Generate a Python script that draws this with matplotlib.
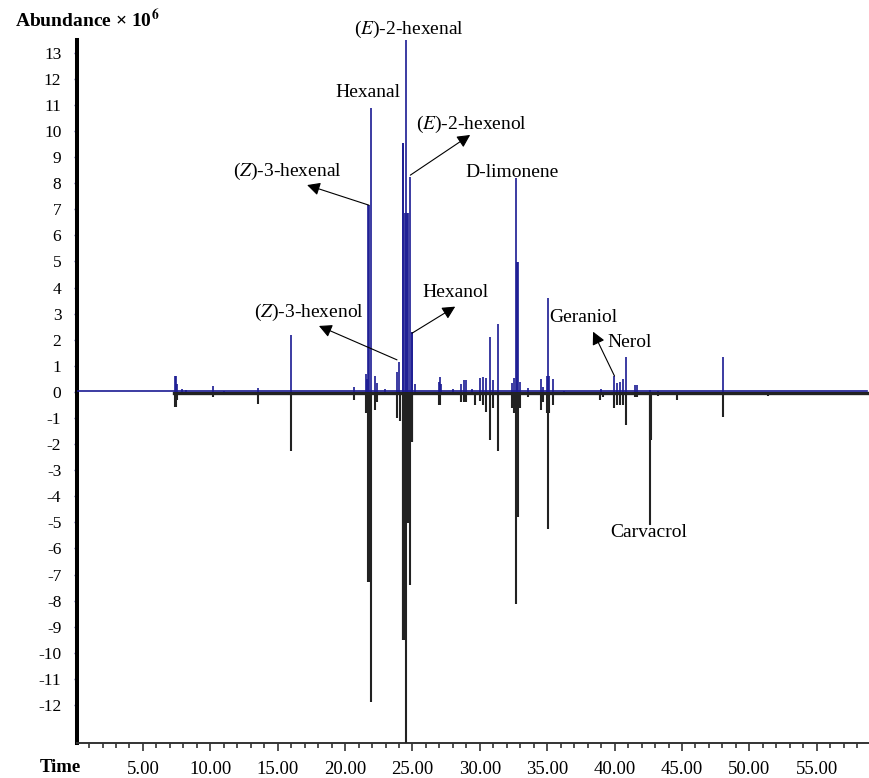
import matplotlib
matplotlib.use('Agg')
import matplotlib.pyplot as plt
from matplotlib.ticker import MultipleLocator, FormatStrFormatter

# --- style ---
plt.rcParams['font.family'] = ['Liberation Serif', 'DejaVu Serif']
plt.rcParams['mathtext.fontset'] = 'stix'
plt.rcParams['axes.unicode_minus'] = False

# --- data: retention time (min) and abundance (x10^6) ---
# upper trace (blue)
blue_time = [7.35, 7.42, 7.5, 7.9, 8.2, 10.23, 11.04, 13.56, 16.02, 20.65,
             21.54, 21.62, 21.72, 21.76, 21.91, 22.2, 22.35, 22.99, 23.83, 23.98,
             24.27, 24.33, 24.42, 24.52, 24.6, 24.66, 24.84, 24.96, 25.0, 25.15,
             26.95, 27.04, 27.12, 28.0, 28.63, 28.85, 29.0, 29.4,
             30.04, 30.2, 30.43, 30.74, 31.0, 31.37,
             32.35, 32.5, 32.65, 32.79, 32.84, 32.98, 33.58,
             34.52, 34.7, 34.98, 35.06, 35.15, 35.43, 36.25,
             39.0, 39.99, 40.2, 40.4, 40.6, 40.81,
             41.49, 41.65, 42.65, 43.2, 48.07]
blue_value = [0.61, 0.61, 0.3, 0.1, 0.08, 0.24, 0.05, 0.15, 2.18, 0.2,
              0.7, 0.5, 7.16, 7.16, 10.88, 0.6, 0.35, 0.12, 0.75, 1.15,
              9.53, 9.53, 6.85, 13.55, 6.85, 6.85, 8.25, 2.31, 2.31, 0.3,
              0.4, 0.58, 0.3, 0.1, 0.3, 0.46, 0.46, 0.1,
              0.55, 0.58, 0.52, 2.12, 0.45, 2.62,
              0.35, 0.55, 8.21, 4.99, 4.99, 0.4, 0.15,
              0.51, 0.2, 0.6, 3.59, 0.6, 0.5, 0.05,
              0.1, 0.61, 0.35, 0.4, 0.5, 1.35,
              0.25, 0.27, 0.08, 0.05, 1.35]

# lower trace (black, mirrored)
black_time = [7.35, 7.42, 7.5, 10.23, 11.04, 13.56, 16.02, 20.65,
              21.54, 21.62, 21.72, 21.76, 21.93, 22.2, 22.35, 23.83, 24.05,
              24.27, 24.33, 24.4, 24.52, 24.6, 24.66, 24.72, 24.84, 24.96, 25.0,
              26.95, 27.04, 28.63, 28.85, 29.0, 29.64,
              30.04, 30.2, 30.43, 30.74, 31.0, 31.37,
              32.35, 32.5, 32.65, 32.79, 32.84, 32.98, 33.58,
              34.52, 34.7, 34.98, 35.06, 35.15, 35.43,
              38.88, 39.13, 39.99, 40.2, 40.4, 40.6, 40.81,
              41.49, 41.65, 42.6, 42.65, 42.7, 43.2, 44.62, 48.07, 49.05, 51.37]
black_value = [-0.57, -0.57, -0.3, -0.2, -0.1, -0.46, -2.25, -0.3,
               -0.8, -0.6, -7.27, -7.27, -11.9, -0.7, -0.4, -1.0, -1.1,
               -9.5, -9.5, -9.5, -13.5, -5.03, -5.03, -5.03, -7.4, -1.9, -1.9,
               -0.5, -0.5, -0.37, -0.4, -0.37, -0.5,
               -0.35, -0.5, -0.75, -1.84, -0.6, -2.25,
               -0.6, -0.8, -8.12, -4.78, -4.78, -0.6, -0.2,
               -0.7, -0.4, -0.8, -5.26, -0.8, -0.5,
               -0.3, -0.2, -0.62, -0.5, -0.5, -0.5, -1.26,
               -0.2, -0.2, -1.84, -5.1, -1.84, -0.15, -0.3, -0.95, -0.1, -0.15]

run_start = 0.13
run_end = 58.7
black_start = 7.3

# compound labels: (text, x, y)
labels = [("($\\it{E}$)-2-hexenal", 24.72, 13.9),
          ("Hexanal", 21.69, 11.49),
          ("($\\it{E}$)-2-hexenol", 29.38, 10.27),
          ("D-limonene", 32.4, 8.43),
          ("($\\it{Z}$)-3-hexenal", 15.7, 8.47),
          ("Hexanol", 28.19, 3.83),
          ("($\\it{Z}$)-3-hexenol", 17.35, 3.03),
          ("Geraniol", 37.65, 2.84),
          ("Nerol", 41.12, 1.88),
          ("Carvacrol", 42.53, -5.4)]

# arrows: (head x, head y, tail x, tail y)
arrows = [(17.18, 7.93, 21.76, 7.16),
          (29.28, 9.85, 24.84, 8.31),
          (28.17, 3.27, 24.96, 2.25),
          (18.06, 2.53, 23.85, 1.23),
          (38.4, 2.31, 39.99, 0.61)]

BLUE = '#1a1a92'
BLACK = '#222222'

fig = plt.figure(figsize=(8.7, 7.78), dpi=100)
ax = fig.add_axes([0.0889, 0.0455, 0.9111, 0.9031])

# baselines
ax.plot([black_start, run_end], [-0.05, -0.05], color=BLACK, lw=2.4, zorder=2)
ax.plot([run_start, run_end], [0.04, 0.04], color=BLUE, lw=1.2, zorder=4)

# peaks
ax.vlines(black_time, 0, black_value, color=BLACK, lw=1.5, zorder=3)
ax.vlines(blue_time, 0, blue_value, color=BLUE, lw=1.2, zorder=5)

for txt, x, y in labels:
    ax.text(x, y, txt, ha='center', va='center', fontsize=14, clip_on=False, zorder=6)

for hx, hy, tx, ty in arrows:
    ax.annotate("", xy=(hx, hy), xytext=(tx, ty),
                arrowprops=dict(arrowstyle='-|>,head_length=0.55,head_width=0.28',
                                color='black', lw=0.8, shrinkA=0, shrinkB=0,
                                mutation_scale=14), zorder=6)

ax.set_xlim(run_start, run_end + 0.25)
ax.set_ylim(-13.44, 13.49)

ax.xaxis.set_major_locator(MultipleLocator(5))
ax.xaxis.set_minor_locator(MultipleLocator(1))
ax.xaxis.set_major_formatter(FormatStrFormatter('%.2f'))
ax.set_yticks(range(-12, 14))

ax.tick_params(axis='x', which='major', length=5.5, width=1.2, color='#333333',
               labelsize=13.5, pad=8)
ax.tick_params(axis='x', which='minor', length=3.5, width=1.2, color='#333333')
ax.tick_params(axis='y', length=2.5, width=1.0, color='#5a5ab0', labelsize=12.5, pad=9)

for s in ['top', 'right']:
    ax.spines[s].set_visible(False)
ax.spines['left'].set_linewidth(2.9)
ax.spines['left'].set_color('black')
ax.spines['bottom'].set_linewidth(1.4)
ax.spines['bottom'].set_color('#333333')
ax.set_facecolor('none')

fig.text(15 / 870, 1 - 20 / 778, "Abundance × 10$^{\\mathbf{6}}$", fontsize=14,
         fontweight='bold', ha='left', va='center')
fig.text(40 / 870, 1 - 768 / 778, "Time", fontsize=13.5, fontweight='bold',
         ha='left', va='center')

fig.savefig('out.png', dpi=100)
